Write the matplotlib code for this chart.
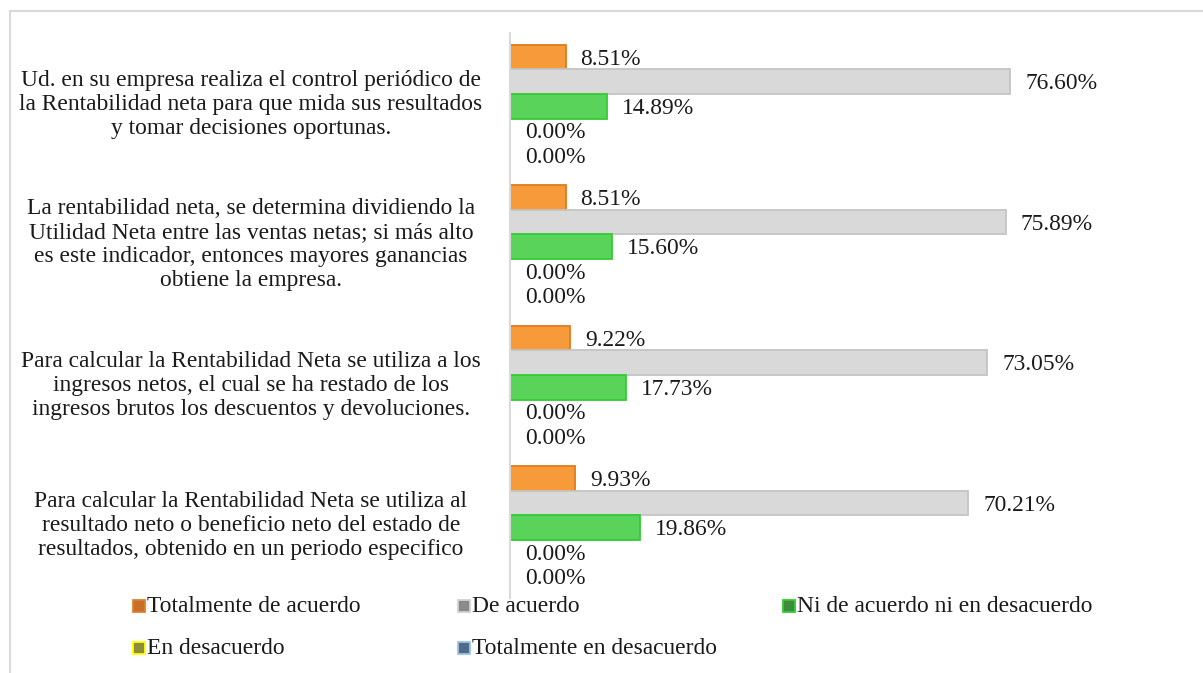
import matplotlib
matplotlib.use("Agg")
import matplotlib.pyplot as plt
from matplotlib.patches import Rectangle
from matplotlib.lines import Line2D
import matplotlib.transforms as mtransforms

categories = [
    "Ud. en su empresa realiza el control periódico de\nla Rentabilidad neta para que mida sus resultados\ny tomar decisiones oportunas.",
    "La rentabilidad neta, se determina dividiendo la\nUtilidad Neta entre las ventas netas; si más alto\nes este indicador, entonces mayores ganancias\nobtiene la empresa.",
    "Para calcular la Rentabilidad Neta se utiliza a los\ningresos netos, el cual se ha restado de los\ningresos brutos los descuentos y devoluciones.",
    "Para calcular la Rentabilidad Neta se utiliza al\nresultado neto o beneficio neto del estado de\nresultados, obtenido en un periodo especifico",
]
series_names = [
    "Totalmente de acuerdo",
    "De acuerdo",
    "Ni de acuerdo ni en desacuerdo",
    "En desacuerdo",
    "Totalmente en desacuerdo",
]
totalmente_de_acuerdo = [8.51, 8.51, 9.22, 9.93]
de_acuerdo = [76.60, 75.89, 73.05, 70.21]
ni_ni = [14.89, 15.60, 17.73, 19.86]
en_desacuerdo = [0.00, 0.00, 0.00, 0.00]
totalmente_en_desacuerdo = [0.00, 0.00, 0.00, 0.00]
series_values = [totalmente_de_acuerdo, de_acuerdo, ni_ni, en_desacuerdo, totalmente_en_desacuerdo]

bar_face = ["#F79A3A", "#D9D9D9", "#5AD35A", "#C9C94A", "#6F8FB5"]
bar_edge = ["#E07A1E", "#C4C4C4", "#33CC33", "#FFFF00", "#9DC3E6"]
leg_face = ["#C8702A", "#8A8A8A", "#3C8C3C", "#8C8C3C", "#4F6A8A"]
leg_edge = ["#E08030", "#D0D0D0", "#33CC33", "#FFFF00", "#9DC3E6"]

FONT = "Liberation Serif"
FS = 16.9
TXT = "#1a1a1a"

W, H = 1203, 673
fig = plt.figure(figsize=(W / 100, H / 100), dpi=100)

# outer chart border (light grey)
fig.add_artist(Line2D([10 / W, 10 / W], [0, 1 - 11 / H], transform=fig.transFigure,
                      color="#D9D9D9", lw=1.5))
fig.add_artist(Line2D([10 / W, 1.01], [1 - 11 / H, 1 - 11 / H], transform=fig.transFigure,
                      color="#D9D9D9", lw=1.5))

ax = fig.add_axes([510 / W, 75 / H, 653 / W, 562 / H])
n_cat = len(categories)
n_ser = len(series_values)
slot = 0.1744

for i, vals in enumerate(series_values):
    ys = [c + (i - (n_ser - 1) / 2) * slot for c in range(n_cat)]
    ax.barh(ys, vals, height=slot, color=bar_face[i], edgecolor=bar_edge[i],
            linewidth=1.3, zorder=2)
    for y, v in zip(ys, vals):
        ax.annotate(f"{v:.2f}%", xy=(v, y), xytext=(10.8, -1.5), textcoords="offset points",
                    va="center", ha="left", fontsize=FS, family=FONT, color=TXT,
                    annotation_clip=False)

ax.set_xlim(0, 100)
ax.set_ylim(n_cat - 0.5, -0.5)
ax.set_xticks([])
ax.set_yticks([])
for s in ["top", "right", "bottom"]:
    ax.spines[s].set_visible(False)
ax.spines["left"].set_color("#D9D9D9")
ax.spines["left"].set_linewidth(1.5)
ax.spines["left"].set_bounds(n_cat - 0.5, -0.5 - 0.02)

trans = mtransforms.blended_transform_factory(fig.transFigure, ax.transData)
for c, lab in enumerate(categories):
    ax.text(251 / W, c - 0.015, lab, transform=trans, ha="center", va="center",
            multialignment="center", fontsize=FS, family=FONT, color=TXT,
            linespacing=1.18)

# legend (manual layout)
leg_pos = [(133, 606), (458, 606), (783, 606), (133, 648), (458, 648)]
for i, name in enumerate(series_names):
    x, y = leg_pos[i]
    sz = 12
    fig.add_artist(Rectangle((x / W, 1 - (y + sz / 2) / H), sz / W, sz / H,
                             transform=fig.transFigure, facecolor=leg_face[i],
                             edgecolor=leg_edge[i], linewidth=1.3))
    fig.text((x + sz + 2) / W, 1 - (y + 1) / H, name, ha="left", va="center",
             fontsize=FS, family=FONT, color=TXT)

fig.savefig("out.png", dpi=100)
